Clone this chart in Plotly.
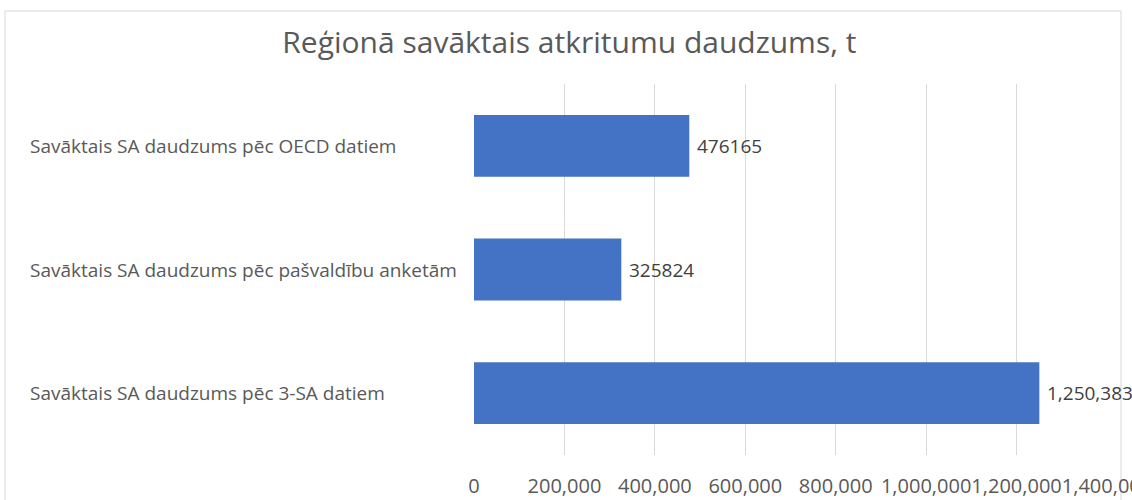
import plotly.graph_objects as go

categories = [
    "Savāktais SA daudzums pēc 3-SA datiem",
    "Savāktais SA daudzums pēc pašvaldību anketām",
    "Savāktais SA daudzums pēc OECD datiem",
]
values = [1250383, 325824, 476165]
value_labels = ["1,250,383", "325824", "476165"]
tick_vals = [0, 200000, 400000, 600000, 800000, 1000000, 1200000, 1400000]
tick_text = ["0", "200,000", "400,000", "600,000", "800,000", "1,000,000", "1,200,000", "1,400,000"]
title_text = "Reģionā savāktais atkritumu daudzums, t"

W, H = 1132, 500
L, R, T, B = 474, 25, 84, 45
pw, ph = W - L - R, H - T - B
FONT = "Open Sans, Noto Sans, sans-serif"
TXT = "#595959"

fig = go.Figure()
fig.add_trace(go.Bar(
    x=values, y=categories, orientation="h",
    marker=dict(color="#4472C4", line=dict(width=0)),
    width=0.5, hoverinfo="skip",
))

annotations = []
for c, v, t in zip(categories, values, value_labels):
    annotations.append(dict(x=v, y=c, xref="x", yref="y", text=t, showarrow=False,
                            xanchor="left", xshift=6, font=dict(family=FONT, size=19, color="#404040")))
    annotations.append(dict(x=(30 - L) / pw, y=c, xref="paper", yref="y", text=c, showarrow=False,
                            xanchor="left", xshift=-2, font=dict(family=FONT, size=19, color=TXT)))

fig.update_layout(
    width=W, height=H, autosize=False,
    margin=dict(l=L, r=R, t=T, b=B, pad=0, autoexpand=False),
    paper_bgcolor="white", plot_bgcolor="white",
    showlegend=False,
    title=dict(text=title_text, x=0.503, xref="container", xanchor="center",
               y=1 - 42 / H, yref="container", yanchor="middle",
               font=dict(family=FONT, size=30, color=TXT)),
    annotations=annotations,
    xaxis=dict(range=[0, 1400000], tickvals=tick_vals, ticktext=tick_text,
               showgrid=True, gridcolor="#d9d9d9", gridwidth=1,
               zeroline=False, showline=False, automargin=False, tickangle=0,
               ticks="outside", ticklen=13, tickcolor="rgba(0,0,0,0)",
               ticklabeloverflow="allow",
               tickfont=dict(family=FONT, size=20, color=TXT), fixedrange=True),
    yaxis=dict(showticklabels=False, showgrid=False, zeroline=False, showline=False,
               automargin=False,
               categoryorder="array", categoryarray=categories, fixedrange=True),
    shapes=[dict(type="rect", xref="paper", yref="paper",
                 x0=(5 - L) / pw, x1=(1121 - L) / pw,
                 y0=-(520 - (H - B)) / ph, y1=(H - B - 11) / ph,
                 line=dict(color="#d9d9d9", width=1), layer="below")],
)

fig.write_html("out.html", config={"displayModeBar": False},
               post_script="document.body.style.margin='0';document.body.style.overflow='hidden';")
